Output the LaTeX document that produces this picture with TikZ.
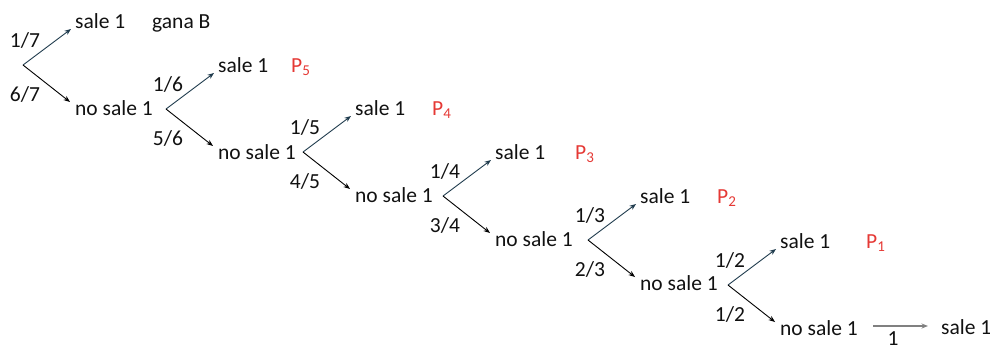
\documentclass[tikz,border=0pt]{standalone}
\usepackage{fontspec}
\setmainfont{Carlito}
\usetikzlibrary{arrows.meta}
\definecolor{upc}{HTML}{1F3B4D}
\definecolor{pred}{HTML}{E53935}
\definecolor{txt}{HTML}{111111}
\definecolor{gr}{HTML}{808080}
\tikzset{
  lbl/.style={inner sep=0pt, anchor=base west, text=txt, font=\fontsize{21.5}{25}\selectfont},
  fraclbl/.style={inner sep=0pt, text=txt, font=\fontsize{21.5}{25}\selectfont},
  plab/.style={lbl, text=pred},
  uparr/.style={draw=upc, line width=0.9pt, -{Stealth[length=6.5pt,width=5pt]}},
  dnarr/.style={draw=black, line width=0.9pt, -{Stealth[length=6.5pt,width=5pt]}},
  finarr/.style={draw=gr, line width=1.1pt, -{Stealth[length=6.5pt,width=5pt]}}
}
\begin{document}
\begin{tikzpicture}[x=1pt,y=-1pt]
\useasboundingbox (0,0) rectangle (990,349);
\foreach \k/\bx/\by/\px in {1/23/65/152, 2/166/109/291, 3/303/152/432, 4/443/196/575, 5/588/240/717, 6/728/285/866}{
  \pgfmathtruncatemacro{\n}{8-\k}
  \pgfmathtruncatemacro{\m}{7-\k}
  \coordinate (b\k) at (\bx,\by);
  \coordinate (tu\k) at (\bx+48,\by-36);
  \coordinate (td\k) at (\bx+47,\by+37);
  \node[lbl] (s\k) at (\bx+52,\by-37) {sale 1};
  \node[lbl] (n\k) at (\bx+52,\by+50) {no sale 1};
  \node[fraclbl] (fu\k) at (\bx+2,\by-25) {1/\n};
  \node[fraclbl] (fd\k) at (\bx+2,\by+29) {\m/\n};
  \draw[uparr] (b\k) -- (tu\k);
  \draw[dnarr] (b\k) -- (td\k);
  \ifnum\k=1
    \node[lbl] (p\k) at (\px,\by-37) {gana B};
  \else
    \node[plab] (p\k) at (\px,\by-37) {P\textsubscript{\m}};
  \fi
}
\coordinate (f0) at (873,326);
\coordinate (f1) at (928,326);
\node[lbl] (s7) at (941,334) {sale 1};
\node[fraclbl] (f7) at (893,338.5) {1};
\draw[finarr] (f0) -- (f1);
\end{tikzpicture}
\end{document}
